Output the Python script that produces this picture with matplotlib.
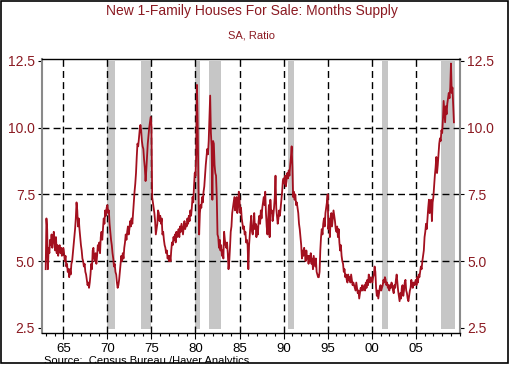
import numpy as np
import matplotlib
matplotlib.use("Agg")
import matplotlib.pyplot as plt
from matplotlib.patches import Rectangle

# ---------------- data (monthly, SA ratio) ----------------
start_year = 1963
supply_1960s = [
    4.7, 6.6, 6.2, 4.7, 5.5, 5.3, 5.8, 5.6, 6.0, 5.5, 5.7, 6.1,   # 1963
    5.8, 5.4, 5.9, 5.3, 5.6, 5.2, 5.5, 5.6, 5.3, 5.5, 5.2, 5.4,   # 1964
    5.5, 5.3, 5.0, 5.2, 4.8, 4.9, 4.6, 4.7, 4.4, 4.7, 4.5, 4.9,   # 1965
    5.0, 5.3, 5.6, 5.9, 6.2, 6.6, 7.2, 6.9, 6.3, 6.6, 6.2, 5.9,   # 1966
    5.6, 5.4, 5.1, 5.0, 4.8, 4.9, 4.6, 4.5, 4.3, 4.1, 4.2, 4.0,   # 1967
    4.2, 4.5, 4.9, 4.7, 5.4, 5.5, 5.1, 5.0, 5.3, 4.9, 5.2, 5.6,   # 1968
    5.4, 5.7, 5.3, 5.9, 6.1, 5.8, 6.2, 6.6, 6.4, 6.9, 6.7, 7.0,   # 1969
]
supply_1970s = [
    7.1, 6.8, 6.9, 6.4, 6.1, 5.8, 5.6, 5.3, 5.1, 4.8, 4.9, 4.6,   # 1970
    4.5, 4.2, 4.0, 4.1, 4.3, 4.6, 4.9, 5.2, 5.0, 5.3, 5.1, 5.5,   # 1971
    5.7, 6.0, 5.8, 6.1, 6.3, 6.0, 6.2, 6.5, 6.3, 6.6, 6.4, 6.8,   # 1972
    7.2, 7.6, 7.9, 8.3, 8.9, 9.4, 9.3, 9.6, 9.9, 10.1, 9.9, 9.5,  # 1973
    9.3, 9.2, 8.8, 8.5, 8.0, 8.4, 8.9, 9.4, 9.7, 10.0, 10.2, 10.4,  # 1974
    10.1, 7.4, 7.2, 7.0, 6.8, 6.5, 6.0, 6.2, 6.4, 6.9, 6.8, 6.5,  # 1975
    6.7, 6.4, 6.6, 6.0, 6.1, 5.8, 5.6, 5.5, 5.3, 5.4, 5.1, 5.2,   # 1976
    5.0, 5.2, 5.0, 5.4, 5.7, 5.6, 5.9, 5.8, 6.0, 5.7, 6.1, 5.9,   # 1977
    6.0, 6.2, 5.9, 6.3, 6.1, 6.4, 6.2, 6.0, 6.3, 6.5, 6.2, 6.4,   # 1978
    6.3, 6.6, 6.4, 6.7, 6.5, 6.9, 6.7, 7.0, 7.4, 7.2, 7.8, 8.3,   # 1979
]
supply_1980s = [
    8.2, 9.0, 11.6, 10.2, 7.8, 6.0, 6.8, 7.1, 7.0, 7.4, 7.2, 7.6,  # 1980
    7.8, 8.2, 8.6, 8.9, 9.2, 9.0, 9.5, 10.3, 11.2, 9.8, 9.3, 7.3,  # 1981
    9.5, 9.4, 8.6, 8.3, 8.2, 7.4, 6.0, 5.9, 5.5, 5.8, 5.4, 5.6,   # 1982
    5.2, 5.4, 5.1, 6.1, 5.8, 5.6, 5.5, 5.7, 5.3, 4.7, 5.0, 5.5,   # 1983
    6.1, 6.3, 6.8, 7.0, 7.2, 7.4, 6.9, 7.1, 7.4, 6.8, 7.0, 7.6,   # 1984
    7.3, 6.8, 7.0, 6.6, 6.4, 6.2, 6.3, 6.0, 6.1, 5.7, 5.8, 5.6,   # 1985
    4.7, 5.6, 6.0, 6.4, 6.7, 6.1, 6.0, 6.3, 6.8, 6.2, 6.4, 5.9,   # 1986
    6.3, 6.0, 6.5, 6.7, 6.4, 6.9, 6.6, 7.0, 7.2, 7.4, 7.1, 7.6,   # 1987
    6.8, 6.3, 6.0, 6.6, 7.1, 5.9, 7.3, 6.8, 6.9, 6.5, 6.7, 7.0,   # 1988
    7.4, 8.2, 7.0, 6.7, 6.4, 6.6, 6.9, 6.7, 7.0, 7.3, 7.6, 8.0,   # 1989
]
supply_1990s = [
    8.1, 7.9, 8.2, 7.8, 8.0, 8.3, 8.1, 8.4, 8.2, 8.6, 8.9, 9.3,   # 1990
    8.5, 7.4, 7.6, 7.3, 7.5, 7.1, 7.2, 7.0, 6.8, 6.4, 6.2, 5.9,   # 1991
    5.6, 5.1, 5.4, 5.2, 5.5, 5.3, 5.0, 5.4, 5.1, 5.2, 4.9, 5.2,   # 1992
    5.0, 5.3, 4.9, 5.1, 4.7, 5.2, 5.0, 4.8, 5.1, 4.6, 4.5, 4.4,   # 1993
    4.4, 4.6, 5.4, 5.9, 6.2, 6.0, 6.4, 6.6, 6.3, 6.8, 7.0, 7.2,   # 1994
    7.5, 6.2, 6.6, 5.9, 6.5, 6.8, 6.3, 6.6, 6.9, 6.7, 6.5, 6.2,   # 1995
    6.1, 6.3, 5.9, 6.2, 5.7, 5.4, 5.6, 5.2, 5.0, 4.9, 4.6, 4.7,   # 1996
    4.4, 4.5, 4.3, 4.2, 4.5, 4.3, 4.4, 4.2, 4.5, 4.3, 4.1, 4.2,   # 1997
    4.1, 4.0, 3.9, 4.2, 4.0, 3.8, 3.9, 3.6, 3.8, 4.0, 3.9, 4.1,   # 1998
    3.9, 4.0, 4.1, 3.9, 4.2, 4.0, 4.3, 4.1, 4.5, 4.3, 4.2, 4.4,   # 1999
]
supply_2000s = [
    4.3, 4.2, 4.4, 4.5, 4.8, 4.6, 4.0, 3.7, 3.9, 3.6, 3.8, 4.0,   # 2000
    4.1, 3.9, 4.0, 4.1, 4.3, 4.2, 4.4, 4.3, 4.1, 4.2, 4.0, 4.1,   # 2001
    3.9, 4.1, 4.0, 4.2, 4.1, 3.9, 3.8, 4.1, 4.0, 4.3, 4.5, 4.2,   # 2002
    3.9, 3.7, 3.5, 3.8, 3.6, 4.0, 4.1, 3.7, 3.9, 4.2, 4.3, 3.9,   # 2003
    3.8, 3.6, 3.5, 3.7, 3.9, 4.0, 4.3, 4.1, 4.0, 4.2, 4.1, 4.2,   # 2004
    4.3, 4.1, 4.4, 4.2, 4.5, 4.4, 4.6, 4.8, 4.7, 5.0, 5.2, 5.4,   # 2005
    5.9, 6.1, 6.4, 6.2, 6.6, 7.0, 7.3, 6.8, 7.1, 7.3, 6.5, 7.2,   # 2006
    7.4, 7.8, 8.2, 8.5, 8.9, 8.3, 8.6, 9.0, 9.4, 9.6, 9.5, 9.9,   # 2007
    9.8, 10.3, 11.0, 10.6, 10.2, 10.8, 10.5, 10.9, 11.1, 11.3, 11.1, 11.5,  # 2008
    12.4, 11.3, 11.5, 10.8, 10.2,                                 # 2009
]

recessions = [(1970.0, 1970.85), (1973.83, 1974.9), (1980.0, 1980.5),
              (1981.5, 1982.9), (1990.5, 1991.17), (2001.17, 2001.85),
              (2007.92, 2009.5)]
x_ticks = [1965, 1970, 1975, 1980, 1985, 1990, 1995, 2000, 2005]
x_tick_labels = ["65", "70", "75", "80", "85", "90", "95", "00", "05"]
y_ticks = [2.5, 5.0, 7.5, 10.0, 12.5]

# ---------------- figure ----------------
values = np.array(supply_1960s + supply_1970s + supply_1980s + supply_1990s + supply_2000s)
months = np.arange(len(values))
xdec = start_year + months / 12.0

plt.rcParams['font.family'] = ['Liberation Sans', 'DejaVu Sans']
dark_red = '#8B1A22'
line_red = '#A3101F'

fig = plt.figure(figsize=(5.10, 3.65), dpi=100)
ax = fig.add_axes([42/510, (365-333)/365, (460.5-42)/510, (333-59)/365])

for a, b in recessions:
    ax.fill_between([a, b], 2.45, 12.5, color='#C6C6C6', lw=0, zorder=1)

dash = (0, (5, 3))
for xt in x_ticks:
    ax.axvline(xt, color='black', lw=1.0, ls=dash, zorder=2)
for yt in [5.0, 7.5, 10.0]:
    ax.axhline(yt, color='black', lw=1.0, ls=dash, zorder=2)

ax.plot(xdec, values, color=line_red, lw=1.3, zorder=3)

ax.set_xlim(1962.58, 2010.08)
ax.set_ylim(2.31, 12.57)

ax.set_xticks(x_ticks)
ax.set_xticklabels(x_tick_labels)
ax.set_xticks(np.arange(1963, 2011), minor=True)
ax.tick_params(axis='x', which='major', direction='out', length=4, width=0.8,
               labelsize=9.5, colors='black', pad=3.5)
ax.tick_params(axis='x', which='minor', direction='out', length=2, width=0.8)

ax.set_yticks(y_ticks)
ax.set_yticklabels([f"{v:.1f}" for v in y_ticks])
ax.tick_params(axis='y', which='both', direction='out', length=3, width=0.8,
               labelsize=10, left=True, right=True, labelleft=True, labelright=True,
               labelcolor=dark_red, color='black', pad=2)

for side in ['top', 'bottom']:
    ax.spines[side].set_color('black')
    ax.spines[side].set_linewidth(1.0)
for side in ['left', 'right']:
    ax.spines[side].set_color('#8a8a8a')
    ax.spines[side].set_linewidth(1.5)

fig.text(252/510, 1 - 11/365, "New 1-Family Houses For Sale: Months Supply",
         ha='center', va='center', fontsize=10, color=dark_red)
fig.text(252/510, 1 - 35/365, "SA, Ratio", ha='center', va='center',
         fontsize=8, color=dark_red)
fig.text(44/510, 1 - 364.5/365, "Source:  Census Bureau /Haver Analytics",
         ha='left', va='baseline', fontsize=8, color='black')

# clip the bottom and draw the outer frame
fig.patches.append(Rectangle((0, 0), 1, 2/365, transform=fig.transFigure,
                             facecolor='white', edgecolor='none', zorder=10))
fig.patches.append(Rectangle((0.6/510, 2/365), 507/510, 362/365, transform=fig.transFigure,
                             facecolor='none', edgecolor='black', lw=1.2, zorder=11))

fig.savefig("out.png", dpi=100, facecolor='white')
